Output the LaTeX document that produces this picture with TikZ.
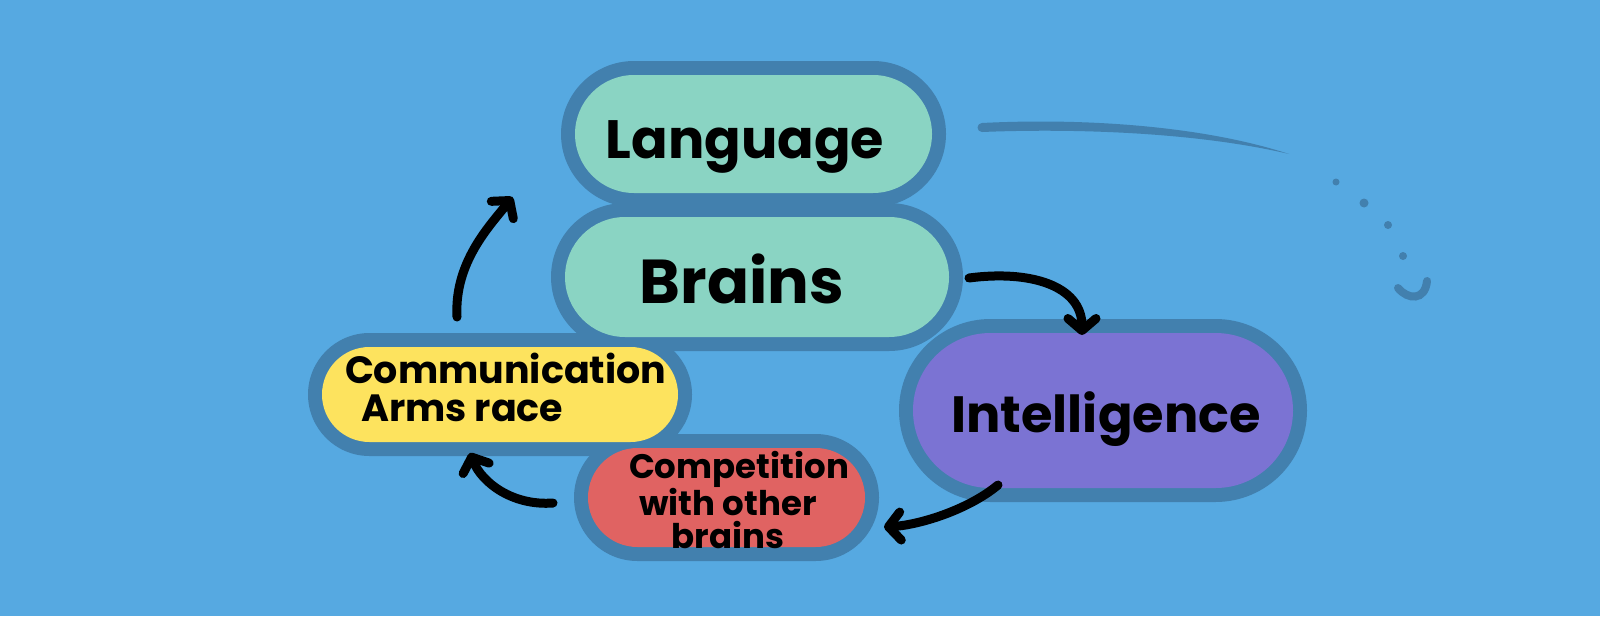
\documentclass[tikz,border=0pt]{standalone}
\usepackage{fontspec}
\setmainfont{Poppins}
\usetikzlibrary{arrows.meta,shapes.misc}
\pgfdeclarelayer{back}
\pgfdeclarelayer{rim}
\pgfsetlayers{back,rim,main}
\definecolor{bgblue}{RGB}{86,169,225}
\definecolor{rimblue}{RGB}{66,128,174}
\definecolor{mint}{RGB}{138,212,195}
\definecolor{sun}{RGB}{253,227,94}
\definecolor{coral}{RGB}{224,99,98}
\definecolor{violet}{RGB}{123,115,211}
\tikzset{
  blob/.style={rounded rectangle, inner sep=0pt, outer sep=0pt},
  rimblob/.style={rounded rectangle, inner sep=0pt, outer sep=0pt, fill=rimblue},
  lbl/.style={inner sep=0pt, outer sep=0pt, text=black},
  arr/.style={draw=black, line width=9pt, line cap=round, line join=round,
    -{Straight Barb[length=12pt,width=28pt,round]}},
  deco/.style={rimblue}
}
\begin{document}
\begin{tikzpicture}[x=1pt,y=-1pt]
\begin{pgfonlayer}{back}
\fill[bgblue] (0,0) rectangle (1600,616);
\end{pgfonlayer}
\useasboundingbox (0,0) rectangle (1600,616);

% shapes
\node[blob, fill=mint, minimum width=357pt, minimum height=118pt] (lang) at (753.5,134) {};
\node[blob, fill=mint, minimum width=384pt, minimum height=120pt] (brains) at (757,277) {};
\node[blob, fill=violet, minimum width=380pt, minimum height=155pt] (intel) at (1103,410.5) {};
\node[blob, fill=sun, minimum width=356pt, minimum height=95pt] (comm) at (500,394.5) {};
\node[blob, fill=coral, minimum width=277pt, minimum height=99pt] (comp) at (726.5,497.5) {};

% rims
\begin{pgfonlayer}{rim}
\node[rimblob, minimum width=385pt, minimum height=146pt] (lang-rim) at (lang) {};
\node[rimblob, minimum width=412pt, minimum height=148pt] (brains-rim) at (brains) {};
\node[rimblob, minimum width=408pt, minimum height=183pt] (intel-rim) at (intel) {};
\node[rimblob, minimum width=384pt, minimum height=123pt] (comm-rim) at (comm) {};
\node[rimblob, minimum width=305pt, minimum height=127pt] (comp-rim) at (comp) {};
\end{pgfonlayer}

% labels
\node[lbl, font={\bfseries\fontsize{54}{60}\selectfont}, anchor=base] (lang-t) at (745,158) {Language};
\node[lbl, font={\bfseries\fontsize{62}{70}\selectfont}, anchor=base] (brains-t) at (742,303) {Brains};
\node[lbl, font={\bfseries\fontsize{51}{60}\selectfont}, anchor=base] (intel-t) at (1106,432) {Intelligence};
\node[lbl, font={\bfseries\fontsize{38}{38}\selectfont}, align=left, anchor=west] (comm-t) at (345,387) {Communication\\\hspace*{16pt}Arms race};
\node[lbl, font={\bfseries\fontsize{34}{33}\selectfont}, align=center, anchor=center] (comp-t) at (728,500) {\hspace*{22pt}Competition\\with other\\brains};

% connectors
\draw[arr] ([xshift=-43pt,yshift=30pt]comm.north) .. controls +(-3,-55) and +(-22,28) .. ([xshift=-241pt,yshift=-4pt]lang.south);
\draw[arr] ([xshift=20pt,yshift=-1pt]brains.east) .. controls +(60,-8) and +(0,-50) .. ([xshift=-21pt,yshift=-2pt]intel.north);
\draw[arr] ([xshift=-105pt,yshift=3pt]intel.south) .. controls +(-30,25) and +(35,-2) .. ([xshift=19pt,yshift=-29.5pt]comp.east);
\draw[arr] ([xshift=-35pt,yshift=-5.5pt]comp.west) .. controls +(-40,3) and +(12,30) .. ([xshift=-30pt,yshift=-11pt]comm.south);

% decorations
\fill[deco] (982,123) .. controls (1080,118) and (1200,125) .. (1289,154) .. controls (1200,133) and (1080,128) .. (982,132) -- cycle;
\fill[deco] (982,127.5) circle (4.5pt);
\fill[deco] (1336,182) circle (3.5pt);
\fill[deco] (1364,203) circle (4.5pt);
\fill[deco] (1388,225) circle (4pt);
\fill[deco] (1403,256) circle (4pt);
\draw[deco, line width=8pt, line cap=round] (1398,288) .. controls (1408,300) and (1425,301) .. (1427,281);
\end{tikzpicture}
\end{document}
